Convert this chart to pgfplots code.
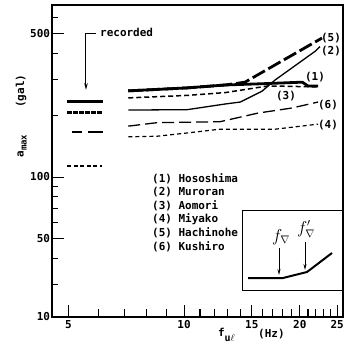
\documentclass[border=0pt]{standalone}
\usepackage{fontspec}
\usepackage{pgfplots}
\pgfplotsset{compat=1.18}
\usetikzlibrary{arrows.meta}
\newfontfamily\tw{DejaVu Sans Mono}
\newcommand{\lf}{\tw\bfseries\fontsize{11}{12}\selectfont}
\begin{document}
\begin{tikzpicture}
\useasboundingbox (-52bp,-36bp) rectangle (310bp,317bp);
\begin{axis}[
 at={(0,0)}, anchor=south west, scale only axis, width=291bp, height=312bp,
 xmode=log, ymode=log, xmin=4.535, xmax=25.9, ymin=20.75, ymax=690,
 axis line style={line width=1.1bp},
 tick align=inside, xtick pos=bottom, ytick pos=left,
 xtick={5,10,15,20,25}, xticklabels={5,10,15,20,25},
 ytick={20.75,50,100,500}, yticklabels={10,50,100,500},
 major tick length=12bp,
 every tick/.style={black, line width=0.9bp},
 tick label style={font=\lf},
 yticklabel style={xshift=1.5bp},
 unbounded coords=jump,
 clip=false,
]
% minor ticks (segments separated by jumps)
\addplot[line width=1.1bp, black] coordinates {
 (6,20.75) (6,22.6) (6,inf) (7,20.75) (7,22.6) (7,inf) (8,20.75) (8,22.6) (8,inf) (9,20.75) (9,22.6) (9,inf)
 (11,20.75) (11,22.6) (11,inf) (12,20.75) (12,22.6) (12,inf) (13,20.75) (13,22.6) (13,inf) (14,20.75) (14,22.6) (14,inf)
 (16,20.75) (16,22.6) (16,inf) (17,20.75) (17,22.6) (17,inf) (18,20.75) (18,22.6) (18,inf) (19,20.75) (19,22.6) (19,inf)
 (21,20.75) (21,22.6) (21,inf) (22,20.75) (22,22.6) (22,inf) (23,20.75) (23,22.6) (23,inf) (24,20.75) (24,22.6)};
\addplot[line width=1.1bp, black] coordinates {
 (4.535,30) (4.71,30) (inf,30) (4.535,40) (4.71,40) (inf,40) (4.535,60) (4.71,60) (inf,60) (4.535,70) (4.71,70) (inf,70)
 (4.535,80) (4.71,80) (inf,80) (4.535,90) (4.71,90) (inf,90) (4.535,200) (4.71,200) (inf,200) (4.535,300) (4.71,300) (inf,300)
 (4.535,400) (4.71,400) (inf,400) (4.535,600) (4.71,600)};
% recorded
\addplot[line width=3bp] coordinates {(4.97,233) (6.16,233)};
\addplot[line width=2.4bp, dash pattern=on 5bp off 1bp] coordinates {(4.97,206) (6.16,206)};
\addplot[line width=1.3bp, dash pattern=on 10bp off 6bp on 15bp off 2bp] coordinates {(5.12,166) (6.16,166)};
\addplot[line width=1.2bp, dash pattern=on 4bp off 2.5bp] coordinates {(4.97,113) (6.1,113)};
% (1) Hososhima
\addplot[line width=2.8bp] coordinates {(7.16,263) (10.2,272) (12.8,281) (16,285) (20.3,290) (21.0,278) (22.3,278)};
% (5) Hachinohe
\addplot[line width=2.8bp, dash pattern=on 14bp off 4bp] coordinates {(7.16,263) (10.2,272) (12.8,281) (14.4,290) (22.84,476)};
% (2) Muroran
\addplot[line width=1.3bp] coordinates {(7.16,212) (10.2,213) (12.8,227) (14.0,232) (15.95,262) (17.24,297) (21.91,410) (22.56,432)};
% (3) Aomori
\addplot[line width=1.5bp, dash pattern=on 5bp off 3bp] coordinates {(7.16,243) (10.2,250) (12.8,258) (16.54,278) (22.3,275)};
% (6) Kushiro
\addplot[line width=1.3bp, dash pattern=on 12bp off 5bp] coordinates {(7.16,177) (8.5,184) (12.4,186) (15.58,205) (19.09,217) (22.3,232)};
% (4) Miyako
\addplot[line width=1.2bp, dash pattern=on 4bp off 3bp] coordinates {(7.16,157) (8.5,158) (10.2,164) (12.4,171) (17.24,171) (22.3,181)};

\draw[line width=1bp, -{Stealth[length=7bp,width=3.5bp]}] (rel axis cs:0.1512,0.910) -- (rel axis cs:0.1168,0.910) -- (rel axis cs:0.1168,0.7276);
\node[font=\lf, anchor=west, inner sep=0pt] at (rel axis cs:0.165,0.912) {recorded};

\node[font=\lf] at (rel axis cs:0.9588,0.8942) {(5)};
\node[font=\lf] at (rel axis cs:0.9588,0.8526) {(2)};
\node[font=\lf] at (rel axis cs:0.9038,0.7692) {(1)};
\node[font=\lf] at (rel axis cs:0.8041,0.7083) {(3)};
\node[font=\lf] at (rel axis cs:0.9485,0.6795) {(6)};
\node[font=\lf] at (rel axis cs:0.9485,0.6154) {(4)};

\node[font=\lf, anchor=west, inner sep=0pt] at (rel axis cs:0.3436,0.4423) {(1) Hososhima};
\node[font=\lf, anchor=west, inner sep=0pt] at (rel axis cs:0.3436,0.3990) {(2) Muroran};
\node[font=\lf, anchor=west, inner sep=0pt] at (rel axis cs:0.3436,0.3558) {(3) Aomori};
\node[font=\lf, anchor=west, inner sep=0pt] at (rel axis cs:0.3436,0.3125) {(4) Miyako};
\node[font=\lf, anchor=west, inner sep=0pt] at (rel axis cs:0.3436,0.2692) {(5) Hachinohe};
\node[font=\lf, anchor=west, inner sep=0pt] at (rel axis cs:0.3436,0.2260) {(6) Kushiro};

\node[font=\lf, rotate=90, inner sep=0pt] at (rel axis cs:-0.103,0.548) {a\raisebox{-3pt}{\tw\bfseries\fontsize{9}{9}\selectfont max}};
\node[font=\lf, rotate=90, inner sep=0pt] at (rel axis cs:-0.1065,0.724) {(gal)};

\node[font=\lf, anchor=base west, inner sep=0pt] at (rel axis cs:0.570,-0.0625) {f\raisebox{-5pt}{\tw\bfseries\fontsize{10}{10}\selectfont u$\ell$}};
\node[font=\lf, anchor=base west, inner sep=0pt] at (rel axis cs:0.708,-0.067) {(Hz)};
\end{axis}

\begin{axis}[at={(190bp,27bp)}, anchor=south west, scale only axis, width=101bp, height=80bp,
 xmin=0, xmax=101, ymin=0, ymax=80, xtick=\empty, ytick=\empty,
 axis line style={line width=1bp}, clip=false]
\addplot[line width=2bp] coordinates {(6,12) (41,12) (65,18) (90,37)};
\draw[line width=0.8bp, -{Stealth[length=6bp,width=3bp]}] (axis cs:37,42) -- (axis cs:37,15);
\draw[line width=0.8bp, -{Stealth[length=6bp,width=3bp]}] (axis cs:63,48) -- (axis cs:63,20);
\node[font=\fontsize{16}{16}\selectfont] at (axis cs:39,53) {$f_{\nabla}$};
\node[font=\fontsize{16}{16}\selectfont] at (axis cs:64,61) {$f'_{\nabla}$};
\end{axis}
\end{tikzpicture}
\end{document}
